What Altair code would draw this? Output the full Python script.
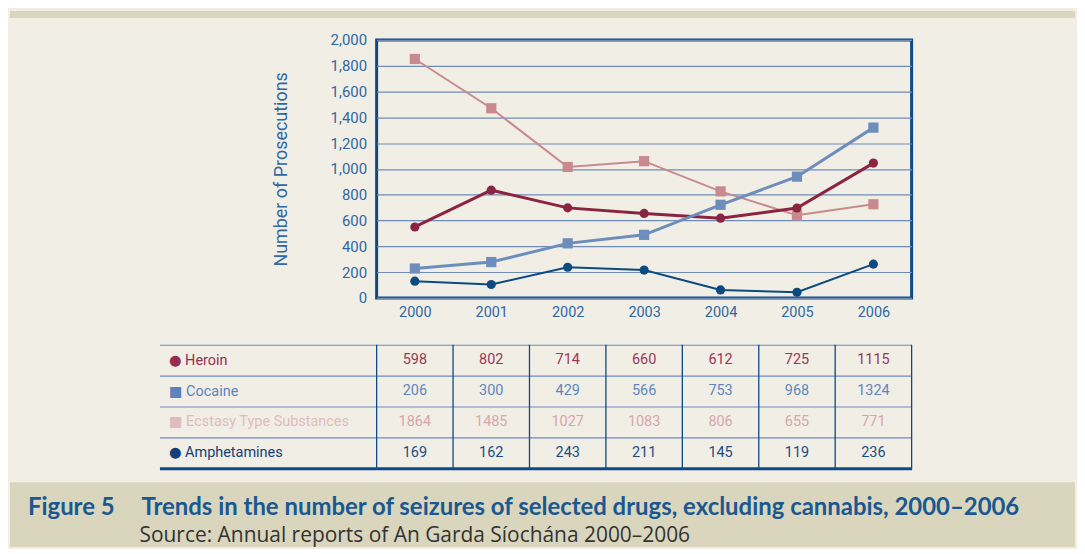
import altair as alt
import pandas as pd

# ---------------- data ----------------
years = ["2000", "2001", "2002", "2003", "2004", "2005", "2006"]
drugs = ["Heroin", "Cocaine", "Ecstasy Type Substances", "Amphetamines"]

# values as plotted in the line chart
heroin_plot = [550, 835, 698, 655, 618, 697, 1045]
cocaine_plot = [228, 278, 423, 489, 722, 940, 1320]
ecstasy_plot = [1852, 1470, 1015, 1060, 826, 640, 726]
amph_plot = [130, 104, 238, 216, 62, 44, 262]

# values printed in the table below the chart
heroin_tab = [598, 802, 714, 660, 612, 725, 1115]
cocaine_tab = [206, 300, 429, 566, 753, 968, 1324]
ecstasy_tab = [1864, 1485, 1027, 1083, 806, 655, 771]
amph_tab = [169, 162, 243, 211, 145, 119, 236]

y_ticks = [0, 200, 400, 600, 800, 1000, 1200, 1400, 1600, 1800, 2000]
y_title = "Number of Prosecutions"
fig_label = ["Figure 5"]
fig_title = ["Trends in the number of seizures of selected drugs, excluding cannabis, 2000\u20132006"]
fig_source = ["Source: Annual reports of An Garda S\u00edoch\u00e1na 2000\u20132006"]

# ---------------- styles ----------------
FONT = "Roboto"
LAB_FONT = "Roboto, DejaVu Sans"
CAP_FONT = "Lato"
SRC_FONT = "Open Sans"
BG = "#f1eee6"
BAND = "#dad6bd"
NAVY = "#0c4a86"
GRID = "#6f8cb6"
AXIS_TXT = "#2f68a3"
ROWLINE = "#6a8dc0"

line_col = {"Heroin": "#8a2442", "Cocaine": "#6d8dbd",
            "Ecstasy Type Substances": "#c98a8f", "Amphetamines": "#0c4a80"}
num_col = {"Heroin": "#9b3755", "Cocaine": "#5f87bb",
           "Ecstasy Type Substances": "#d6a7ab", "Amphetamines": "#1b4d84"}
lab_col = {"Heroin": "#962f4f", "Cocaine": "#5a84bb",
           "Ecstasy Type Substances": "#dfbcbf", "Amphetamines": "#123f78"}
shape = {"Heroin": "circle", "Cocaine": "square",
         "Ecstasy Type Substances": "square", "Amphetamines": "circle"}
width = {"Heroin": 3, "Cocaine": 3, "Ecstasy Type Substances": 2, "Amphetamines": 2}
msize = {"circle": 85, "square": 105}
sym = {"circle": "\u25cf", "square": "\u25a0"}

plot_vals = {"Heroin": heroin_plot, "Cocaine": cocaine_plot,
             "Ecstasy Type Substances": ecstasy_plot, "Amphetamines": amph_plot}
tab_vals = {"Heroin": heroin_tab, "Cocaine": cocaine_tab,
            "Ecstasy Type Substances": ecstasy_tab, "Amphetamines": amph_tab}

lines_df = pd.DataFrame([{"drug": d, "year": y, "value": v}
                         for d in drugs for y, v in zip(years, plot_vals[d])])
table_df = pd.DataFrame([{"drug": d, "row": i, "year": y, "value": v}
                         for i, d in enumerate(drugs) for y, v in zip(years, tab_vals[d])])
years_df = pd.DataFrame({"year": years})
one = pd.DataFrame({"k": [0]})

# ---------------- top panel: line chart ----------------
X = alt.X("year:O", scale=alt.Scale(type="point", padding=0.5),
          axis=alt.Axis(title=None, labelAngle=0, ticks=False, domain=False,
                        labelPadding=8, labelFont=FONT, labelFontSize=14.5,
                        labelColor=AXIS_TXT))
Y = alt.Y("value:Q", scale=alt.Scale(domain=[0, 2000], nice=False),
          axis=alt.Axis(values=y_ticks, format=",.0f", title=y_title, ticks=False,
                        domain=False, grid=True, gridColor=GRID, gridWidth=1.2,
                        labelPadding=10, labelFont=FONT, labelFontSize=15,
                        labelColor=AXIS_TXT, titleFont=FONT, titleFontSize=18,
                        titleFontWeight="normal", titleColor=AXIS_TXT,
                        titlePadding=40))

strip = alt.Chart(one).mark_rect(color=BAND, clip=False).encode(
    x=alt.value(-368), x2=alt.value(701), y=alt.value(-29), y2=alt.value(-22))

layers = [strip]
for d in ["Ecstasy Type Substances", "Heroin", "Cocaine", "Amphetamines"]:
    base = alt.Chart(lines_df).transform_filter(alt.datum.drug == d)
    layers.append(base.mark_line(color=line_col[d], strokeWidth=width[d]).encode(x=X, y=Y))
    layers.append(base.mark_point(filled=True, opacity=1, shape=shape[d],
                                  size=msize[shape[d]], color=line_col[d]).encode(x=X, y=Y))

top = alt.layer(*layers).properties(
    width=537, height=259,
    view=alt.ViewBackground(stroke=NAVY, strokeWidth=3))

# ---------------- table panel ----------------
lab_expr = " : ".join(
    f"datum.value == {i} ? '{sym[shape[d]]}  {d}'" for i, d in enumerate(drugs)) + " : ''"
lab_cond = [{"test": f"datum.value == {i}", "value": lab_col[d]}
            for i, d in enumerate(drugs[:-1])]

TY = alt.Y("ypos:Q", scale=alt.Scale(domain=[0, 4], reverse=True, nice=False),
           axis=alt.Axis(values=[0, 1, 2, 3, 4], title=None, domain=False,
                         ticks=True, tickSize=218,
                         tickColor={"condition": {"test": "datum.value == 4", "value": NAVY}, "value": ROWLINE},
                         tickWidth={"condition": {"test": "datum.value == 4", "value": 3}, "value": 1.2},
                         grid=True,
                         gridColor={"condition": {"test": "datum.value == 4", "value": NAVY}, "value": ROWLINE},
                         gridWidth={"condition": {"test": "datum.value == 4", "value": 3}, "value": 1.2},
                         labelExpr=lab_expr, labelAlign="left", labelBaseline="middle",
                         labelOffset=15.5, labelPadding=-9, labelOverlap=False,
                         labelLimit=400, labelFont=LAB_FONT, labelFontSize=14.5,
                         labelColor={"condition": lab_cond, "value": lab_col[drugs[-1]]}))
TX = alt.X("year:O", scale=alt.Scale(type="band", paddingInner=0, paddingOuter=0),
           axis=None)

numbers = alt.Chart(table_df).transform_calculate(
    ypos="datum.row + 0.5"
).mark_text(font=FONT, fontSize=14.5, baseline="middle").encode(
    x=TX, y=TY, text="value:Q",
    color=alt.Color("drug:N", scale=alt.Scale(domain=drugs, range=[num_col[d] for d in drugs]),
                    legend=None))

vlines = alt.Chart(years_df).mark_rule(color=NAVY, strokeWidth=1.3).encode(
    x=alt.X("year:O", bandPosition=0, scale=alt.Scale(type="band", paddingInner=0, paddingOuter=0), axis=None))
vright = alt.Chart(years_df).transform_filter(alt.datum.year == years[-1]).mark_rule(
    color=NAVY, strokeWidth=1.3).encode(
    x=alt.X("year:O", bandPosition=1, scale=alt.Scale(type="band", paddingInner=0, paddingOuter=0), axis=None))

band = alt.Chart(one).mark_rect(color=BAND, clip=False).encode(
    x=alt.value(-368), x2=alt.value(701), y=alt.value(138), y2=alt.value(203))
cap1 = alt.Chart(pd.DataFrame({"t": fig_label})).mark_text(
    font=CAP_FONT, fontSize=24, fontWeight="bold", color="#1a5891",
    align="left", baseline="alphabetic", clip=False).encode(
    x=alt.value(-350), y=alt.value(171), text="t:N")
cap2 = alt.Chart(pd.DataFrame({"t": fig_title})).mark_text(
    font=CAP_FONT, fontSize=24, fontWeight="bold", color="#1a5891",
    align="left", baseline="alphabetic", clip=False).encode(
    x=alt.value(-236), y=alt.value(171), text="t:N")
cap3 = alt.Chart(pd.DataFrame({"t": fig_source})).mark_text(
    font=SRC_FONT, fontSize=21, color="#333333",
    align="left", baseline="alphabetic", clip=False).encode(
    x=alt.value(-238), y=alt.value(198), text="t:N")

table = alt.layer(numbers, vlines, vright, band, cap1, cap2, cap3).properties(
    width=537, height=124,
    view=alt.ViewBackground(stroke="transparent"))

chart = alt.vconcat(top, table, spacing=22).resolve_scale(
    x="independent", y="independent", color="independent"
).properties(padding=0).configure(background=BG, padding=0).configure_view(stroke="transparent")

chart.save("out.html", embed_options={"renderer": "svg", "actions": False})
